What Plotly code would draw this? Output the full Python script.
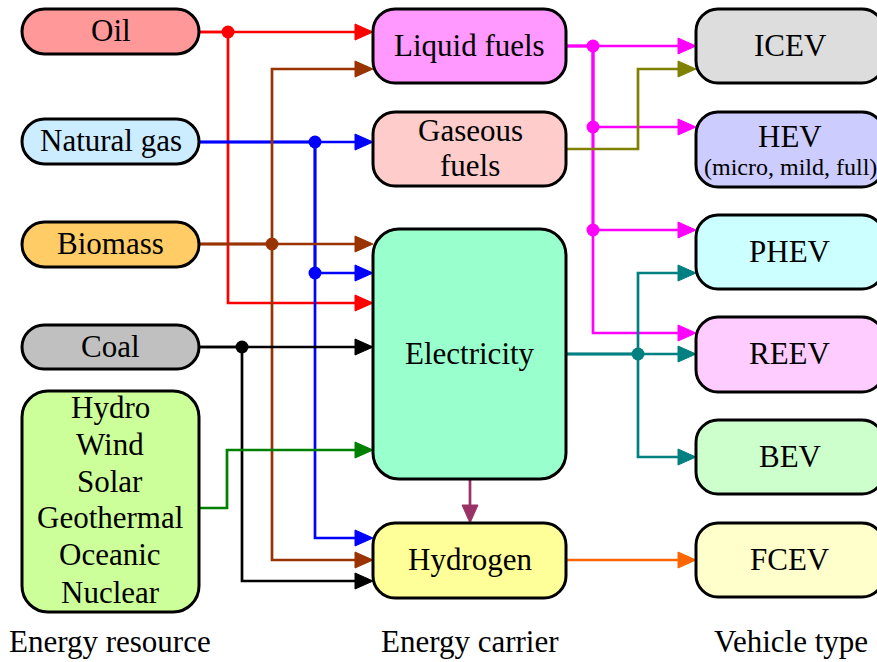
import plotly.graph_objects as go

W, H = 877, 662

# ---------------- diagram content ----------------
resources = ["Oil", "Natural gas", "Biomass", "Coal", "Renewables"]
renewable_lines = ["Hydro", "Wind", "Solar", "Geothermal", "Oceanic", "Nuclear"]
carriers = ["Liquid fuels", "Gaseous fuels", "Electricity", "Hydrogen"]
gaseous_lines = ["Gaseous", "fuels"]
vehicles = ["ICEV", "HEV", "PHEV", "REEV", "BEV", "FCEV"]
hev_note = "(micro, mild, full)"
column_titles = ["Energy resource", "Energy carrier", "Vehicle type"]

# links: source -> targets
links = {
    "Oil": ["Liquid fuels", "Electricity"],
    "Natural gas": ["Gaseous fuels", "Electricity", "Hydrogen"],
    "Biomass": ["Liquid fuels", "Electricity", "Hydrogen"],
    "Coal": ["Electricity", "Hydrogen"],
    "Renewables": ["Electricity"],
    "Liquid fuels": ["ICEV", "HEV", "PHEV", "REEV"],
    "Gaseous fuels": ["ICEV"],
    "Electricity": ["REEV", "PHEV", "BEV", "Hydrogen"],
    "Hydrogen": ["FCEV"],
}

# ---------------- geometry / style ----------------
FONT = "Liberation Serif"
FS = 31
box = {
    # name: (x0, y0, x1, y1, radius, fill)
    "Oil": (22, 9, 199, 54, 22.5, "#FF9999"),
    "Natural gas": (22, 119, 199, 164, 22.5, "#CCECFF"),
    "Biomass": (22, 222, 199, 267, 22.5, "#FFCC66"),
    "Coal": (22, 325, 199, 369, 22, "#C0C0C0"),
    "Renewables": (22, 391, 199, 612, 26, "#CCFF99"),
    "Liquid fuels": (373, 9, 566, 83, 22, "#FF99FF"),
    "Gaseous fuels": (373, 112, 566, 186, 22, "#FFCCCC"),
    "Electricity": (373, 229, 566, 479, 26, "#99FFCC"),
    "Hydrogen": (373, 523, 566, 598, 22, "#FFFF99"),
    "ICEV": (696, 9, 884, 83, 22, "#DDDDDD"),
    "HEV": (696, 112, 884, 187, 22, "#CCCCFF"),
    "PHEV": (696, 215, 884, 289, 22, "#CCFFFF"),
    "REEV": (696, 317, 884, 392, 22, "#FFCCFF"),
    "BEV": (696, 420, 884, 494, 22, "#CCFFCC"),
    "FCEV": (696, 523, 884, 597, 22, "#FFFFCC"),
}
# routing: source -> (exit y, bus x, colour, {target: entry y})
routing = {
    "Oil": (32, 228, "#FF0000", {"Liquid fuels": 32, "Electricity": 303}),
    "Natural gas": (142, 315, "#0000FF", {"Gaseous fuels": 142, "Electricity": 273, "Hydrogen": 538}),
    "Biomass": (244, 272, "#993300", {"Liquid fuels": 69, "Electricity": 244, "Hydrogen": 560}),
    "Coal": (347, 242, "#000000", {"Electricity": 347, "Hydrogen": 581}),
    "Renewables": (508, 227, "#008000", {"Electricity": 450}),
    "Liquid fuels": (46, 593, "#FF00FF", {"ICEV": 46, "HEV": 127, "PHEV": 230, "REEV": 333}),
    "Gaseous fuels": (149, 638, "#808000", {"ICEV": 69}),
    "Electricity": (354, 638, "#008080", {"REEV": 354, "PHEV": 273, "BEV": 457}),
    "Hydrogen": (560, None, "#FF6600", {"FCEV": 560}),
}
down_link = ("Electricity", "Hydrogen", 470, "#993366")

LW = 2.7
AL, AW = 18, 8  # arrow length, half width
DOT_R = 6.5
DY = -2  # text vertical nudge

shapes = []


def rrect(x0, y0, x1, y1, r):
    k = 0.5523 * r
    return (f"M{x0+r},{y0} L{x1-r},{y0} C{x1-r+k},{y0} {x1},{y0+r-k} {x1},{y0+r} "
            f"L{x1},{y1-r} C{x1},{y1-r+k} {x1-r+k},{y1} {x1-r},{y1} "
            f"L{x0+r},{y1} C{x0+r-k},{y1} {x0},{y1-r+k} {x0},{y1-r} "
            f"L{x0},{y0+r} C{x0},{y0+r-k} {x0+r-k},{y0} {x0+r},{y0} Z")


def line_path(pts, color):
    d = "M" + " L".join(f"{x},{y}" for x, y in pts)
    shapes.append(dict(type="path", path=d, line=dict(color=color, width=LW),
                       xref="x", yref="y", layer="above"))


def arrow_right(xt, y, color):
    d = f"M{xt},{y} L{xt-AL},{y-AW} L{xt-AL},{y+AW} Z"
    shapes.append(dict(type="path", path=d, fillcolor=color, line=dict(color=color, width=1),
                       xref="x", yref="y", layer="above"))


def arrow_down(x, yt, color):
    d = f"M{x},{yt} L{x-AW},{yt-AL} L{x+AW},{yt-AL} Z"
    shapes.append(dict(type="path", path=d, fillcolor=color, line=dict(color=color, width=1),
                       xref="x", yref="y", layer="above"))


dots = []
for src, (ys, bx, col, tg) in routing.items():
    sx = box[src][2]
    for t in links[src]:
        if t not in tg:
            continue
        yt = tg[t]
        tx = box[t][0]
        if yt == ys or bx is None:
            pts = [(sx, ys), (tx - AL + 1, yt)]
        else:
            pts = [(sx, ys), (bx, ys), (bx, yt), (tx - AL + 1, yt)]
        line_path(pts, col)
        arrow_right(tx, yt, col)
    if bx is None:
        continue
    ys_all = [ys] + list(tg.values())
    lo, hi = min(ys_all), max(ys_all)
    for y in sorted(set(ys_all)):
        deg = (1 if y == ys else 0) + (1 if y in tg.values() else 0) + (1 if y > lo else 0) + (1 if y < hi else 0)
        if deg >= 3:
            dots.append((bx, y, col))

# electricity -> hydrogen (vertical)
s, t, x, col = down_link
line_path([(x, box[s][3]), (x, box[t][1] - AL + 1)], col)
arrow_down(x, box[t][1], col)

# boxes
for name, (x0, y0, x1, y1, r, fill) in box.items():
    shapes.append(dict(type="path", path=rrect(x0, y0, x1, y1, r), fillcolor=fill,
                       line=dict(color="#000000", width=3), xref="x", yref="y", layer="above"))

for x, y, col in dots:
    shapes.append(dict(type="circle", x0=x - DOT_R, x1=x + DOT_R, y0=y - DOT_R, y1=y + DOT_R,
                       fillcolor=col, line=dict(color=col, width=0), xref="x", yref="y", layer="above"))

annotations = []


def text(x, y, s, size=FS):
    annotations.append(dict(x=x, y=y + DY, text=s, showarrow=False, xref="x", yref="y",
                            xanchor="center", yanchor="middle",
                            font=dict(family=FONT, size=size, color="#000000")))


for name in resources[:4] + ["Liquid fuels", "Electricity", "Hydrogen", "ICEV", "PHEV", "REEV", "BEV", "FCEV"]:
    x0, y0, x1, y1, r, f = box[name]
    cx = (x0 + x1) / 2 if x1 < 880 else 790
    text(cx, (y0 + y1) / 2 + 1, name)

for s, y in zip(renewable_lines, [409, 446, 483, 519, 556, 594]):
    text(110, y, s)
for s, y in zip(gaseous_lines, [132, 167]):
    text(470, y, s)
text(790, 138, "HEV")
text(790, 169, hev_note, size=24)

for s, x in zip(column_titles, [110, 470, 791]):
    text(x, 643, s)

fig = go.Figure()
fig.add_trace(go.Scatter(x=[], y=[]))
fig.update_layout(
    width=W, height=H, margin=dict(l=0, r=0, t=0, b=0),
    paper_bgcolor="white", plot_bgcolor="white", showlegend=False,
    xaxis=dict(range=[0, W], visible=False, fixedrange=True),
    yaxis=dict(range=[H, 0], visible=False, fixedrange=True),
    shapes=shapes, annotations=annotations,
)
fig.write_html("out.html", config={"displayModeBar": False},
               post_script="document.body.style.margin='0';document.body.style.overflow='hidden';")
